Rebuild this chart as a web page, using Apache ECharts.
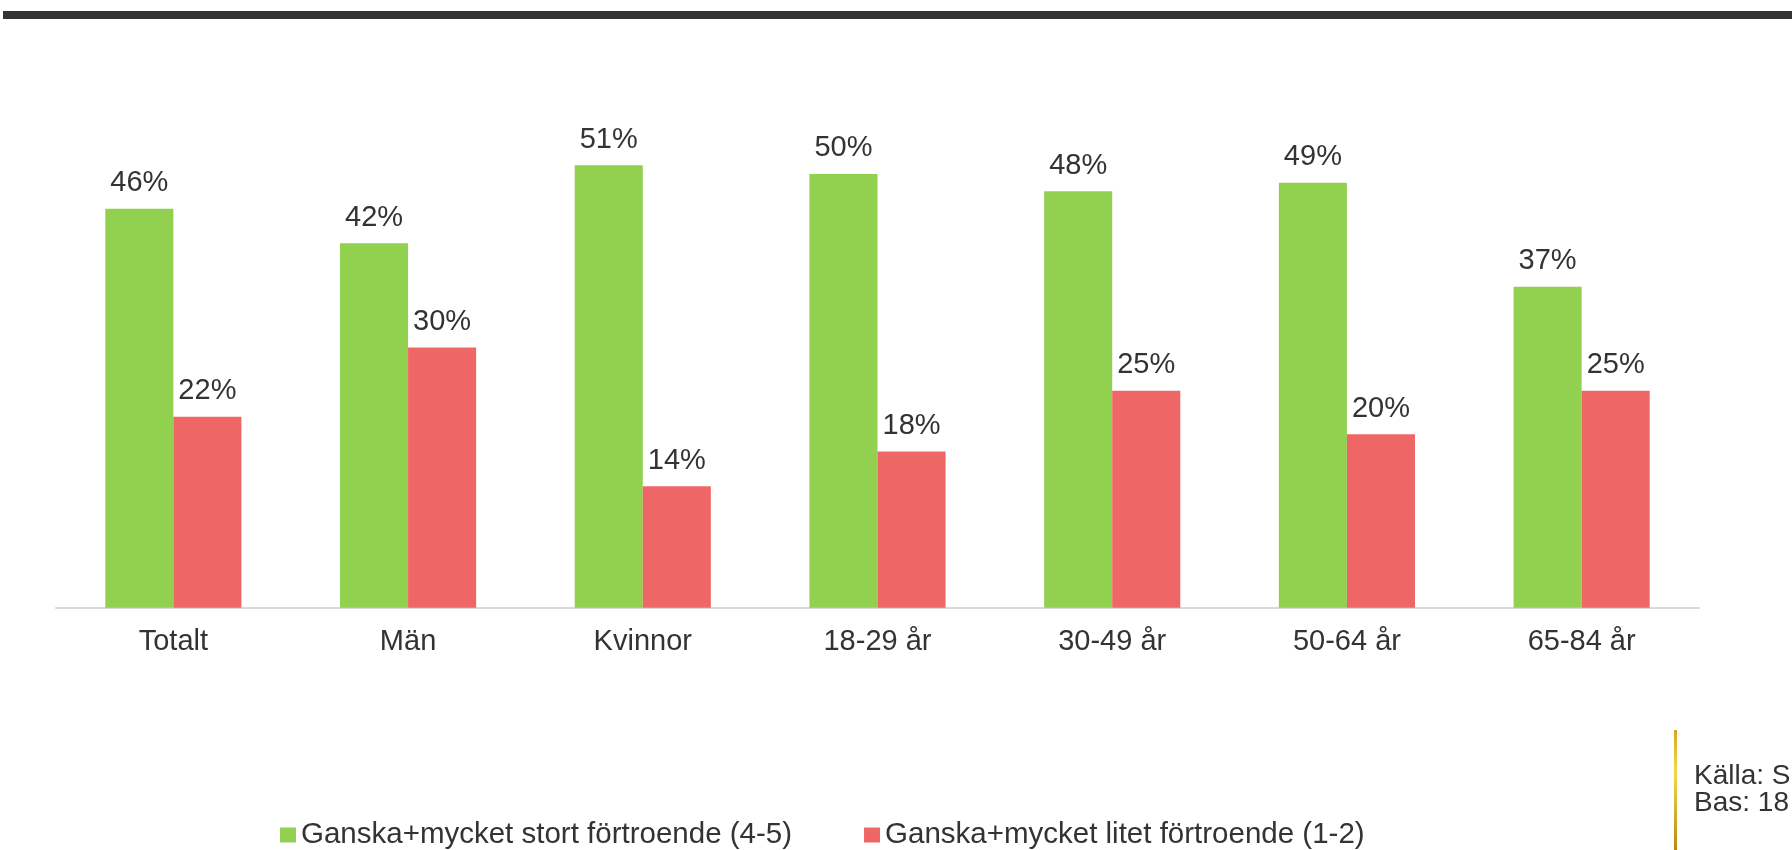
<!DOCTYPE html>
<html>
<head>
<meta charset="utf-8">
<script src="https://cdn.jsdelivr.net/npm/echarts@6/dist/echarts.min.js"></script>
<style>
html,body{margin:0;padding:0;background:#fff;}
#chart{width:1792px;height:850px;}
</style>
</head>
<body>
<div id="chart"></div>
<script>
const categories = ['Totalt', 'Män', 'Kvinnor', '18-29 år', '30-49 år', '50-64 år', '65-84 år'];
const seriesNames = ['Ganska+mycket stort förtroende (4-5)', 'Ganska+mycket litet förtroende (1-2)'];
const highTrust = [46, 42, 51, 50, 48, 49, 37];
const lowTrust = [22, 30, 14, 18, 25, 20, 25];
const sourceLines = ['Källa: S', 'Bas: 18'];

const FONT = 'Liberation Sans, Arial, sans-serif';
const chart = echarts.init(document.getElementById('chart'));
const labelStyle = {
  show: true, position: 'top', distance: 11,
  formatter: p => p.value + '%',
  fontFamily: FONT, fontSize: 29, color: '#333'
};
chart.setOption({
  animation: false,
  grid: { left: 56, right: 93, top: 87.2, bottom: 242.3, containLabel: false },
  legend: {
    left: 275, top: 815, itemWidth: 16, itemHeight: 15, itemGap: 72,
    icon: 'rect',
    textStyle: { fontFamily: FONT, fontSize: 29.5, color: '#333' },
    data: seriesNames
  },
  xAxis: {
    type: 'category', data: categories,
    axisLine: { lineStyle: { color: '#d9d9d9', width: 2 } },
    axisTick: { show: false },
    axisLabel: { fontFamily: FONT, fontSize: 29, color: '#333', margin: 20 }
  },
  yAxis: { type: 'value', min: 0, max: 60, show: false, splitLine: { show: false } },
  series: [
    { name: seriesNames[0], type: 'bar', data: highTrust, barGap: '0%', barCategoryGap: '42%',
      itemStyle: { color: '#92d050' }, label: labelStyle },
    { name: seriesNames[1], type: 'bar', data: lowTrust, barGap: '0%', barCategoryGap: '42%',
      itemStyle: { color: '#ef6666' }, label: labelStyle }
  ],
  graphic: [
    { type: 'rect', shape: { x: 3, y: 11, width: 1789, height: 8 }, style: { fill: '#333333' } },
    { type: 'rect', shape: { x: 1674, y: 730, width: 3, height: 120 },
      style: { fill: new echarts.graphic.LinearGradient(0, 0, 0, 1, [
        { offset: 0, color: '#d4a820' }, { offset: 0.35, color: '#f5d84a' }, { offset: 1, color: '#b88a10' }]) } },
    { type: 'text', left: 1694, top: 762, style: { text: sourceLines.join('\n'), fontFamily: FONT, fontSize: 28, lineHeight: 27, fill: '#333' } }
  ]
});
</script>
</body>
</html>
